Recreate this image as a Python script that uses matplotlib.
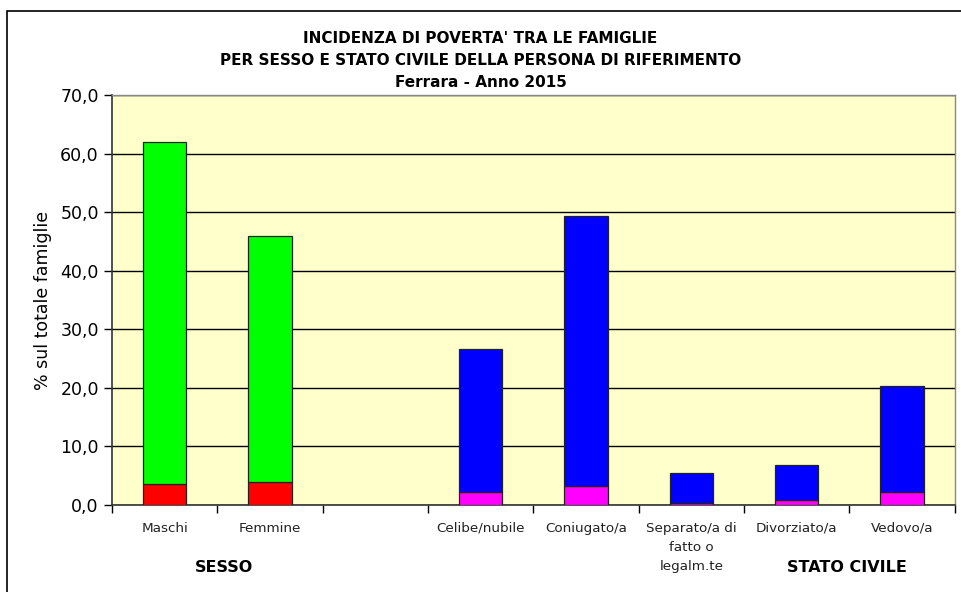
import matplotlib
matplotlib.use("Agg")
import matplotlib.pyplot as plt
from matplotlib.patches import Rectangle
from matplotlib.ticker import MultipleLocator, FuncFormatter

categories = ["Maschi", "Femmine", "", "Celibe/nubile", "Coniugato/a",
              "Separato/a di\nfatto o\nlegalm.te", "Divorziato/a", "Vedovo/a"]
totals = [62.0, 45.9, 0.0, 26.6, 49.3, 5.4, 6.8, 20.3]
poor = [3.6, 3.9, 0.0, 2.2, 3.2, 0.3, 0.8, 2.2]
top_colors = ["#00ff00", "#00ff00", "#00ff00", "#0000ff", "#0000ff",
              "#0000ff", "#0000ff", "#0000ff"]
base_colors = ["#ff0000", "#ff0000", "#ff0000", "#ff00ff", "#ff00ff",
               "#ff00ff", "#ff00ff", "#ff00ff"]
groups = [("SESSO", 0.56), ("STATO CIVILE", 6.48)]

fig = plt.figure(figsize=(9.61, 5.92), dpi=100)
ax = fig.add_axes([0.1165, 0.147, 0.877, 0.6925])
ax.set_facecolor("#ffffcc")

x = list(range(len(categories)))
rest = [t - p for t, p in zip(totals, poor)]
w = 0.41
for xi, t, p, r, ct, cb in zip(x, totals, poor, rest, top_colors, base_colors):
    if t <= 0:
        continue
    ax.bar(xi, p, width=w, color=cb, edgecolor="#222222", lw=0.9, zorder=3)
    ax.bar(xi, r, bottom=p, width=w, color=ct, edgecolor="#222222", lw=0.9,
           zorder=3)

ax.set_xlim(-0.5, len(categories) - 0.5)
ax.set_ylim(0, 70)
ax.yaxis.set_major_locator(MultipleLocator(10))
ax.yaxis.set_major_formatter(FuncFormatter(lambda v, _: f"{v:.1f}".replace(".", ",")))
ax.grid(axis="y", color="black", lw=1.0, zorder=1)
ax.set_axisbelow(True)

ax.set_xticks([i - 0.5 for i in range(len(categories) + 1)])
ax.set_xticklabels([])
ax.set_xticks(x, minor=True)
ax.set_xticklabels(categories, minor=True, fontsize=9.7, color="#222222",
                   va="top", linespacing=1.6)
ax.tick_params(axis="x", which="minor", length=0, pad=12)
ax.tick_params(axis="x", which="major", length=6, direction="out", width=1)
ax.tick_params(axis="y", length=6, direction="out", labelsize=12.5,
               width=1)

for s in ["left", "bottom"]:
    ax.spines[s].set_color("#333333")
    ax.spines[s].set_linewidth(1.2)
for s in ["top", "right"]:
    ax.spines[s].set_color("#888888")
    ax.spines[s].set_linewidth(1.0)

ax.set_ylabel("% sul totale famiglie", fontsize=12.5, labelpad=6)

for label, gx in groups:
    ax.text(gx, -10.6, label, ha="center", va="center", fontsize=11.5,
            fontweight="bold", transform=ax.transData)

fig.text(0.5, 0.935, "INCIDENZA DI POVERTA' TRA LE FAMIGLIE",
         ha="center", va="center", fontsize=11, fontweight="bold")
fig.text(0.5, 0.898, "PER SESSO E STATO CIVILE DELLA PERSONA DI RIFERIMENTO",
         ha="center", va="center", fontsize=11, fontweight="bold")
fig.text(0.5, 0.861, "Ferrara - Anno 2015",
         ha="center", va="center", fontsize=11, fontweight="bold")

# outer chart frame, cut off at the right and bottom edges
fig.patches.append(Rectangle((0.0075, -0.1), 1.1, 1.082,
                             transform=fig.transFigure, fill=False,
                             edgecolor="black", lw=1.2))

fig.savefig("out.png", dpi=100)
